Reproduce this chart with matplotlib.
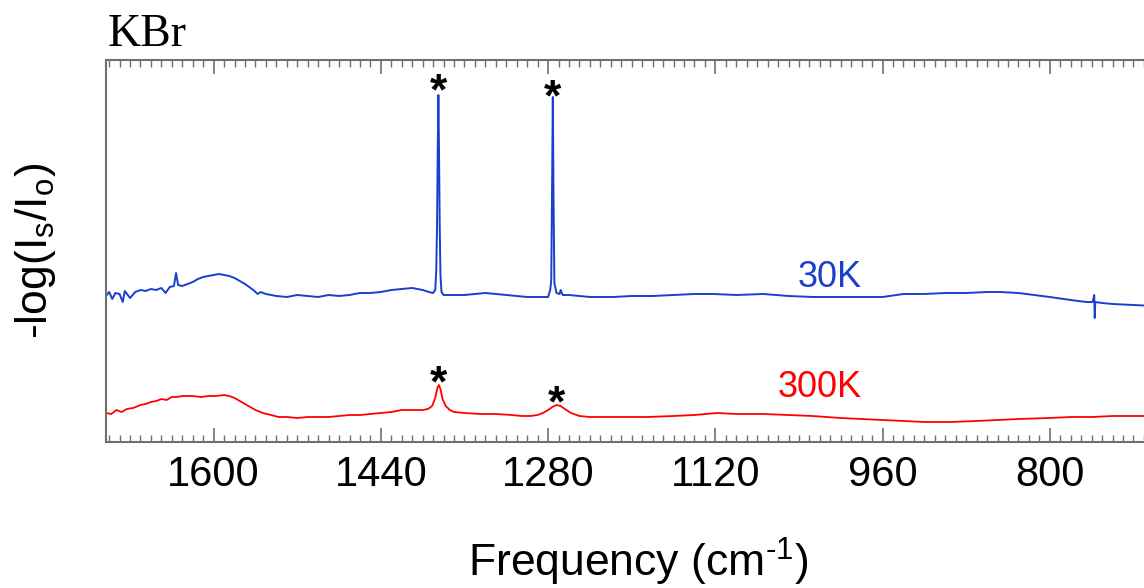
import matplotlib
matplotlib.use("Agg")
import numpy as np
import matplotlib.pyplot as plt
from matplotlib.ticker import MultipleLocator

# ---------------------------------------------------------
# Spectra (frequency in cm^-1, absorbance in arbitrary offset units)
# ---------------------------------------------------------
freq_30k = [1703, 1700, 1697, 1694, 1690, 1687, 1685, 1680, 1675, 1670, 1665, 1660,
            1655, 1650, 1646, 1642, 1638, 1636, 1634, 1630, 1625, 1620, 1615, 1610,
            1605, 1600, 1595, 1590, 1585, 1580, 1575, 1570, 1566, 1562, 1558, 1555,
            1550, 1540, 1530, 1520, 1510, 1500, 1490, 1480, 1470, 1460, 1450, 1440,
            1430, 1420, 1410, 1400, 1394, 1390, 1388, 1387, 1386.3, 1385.6, 1385,
            1384.4, 1383.7, 1383, 1382, 1380, 1370, 1360, 1350, 1340, 1330, 1320,
            1310, 1300, 1290, 1280, 1278, 1277, 1276.3, 1275.5, 1274.8, 1274, 1272,
            1269, 1268, 1266, 1260, 1250, 1240, 1230, 1218, 1200, 1180, 1160, 1140,
            1122, 1100, 1074, 1050, 1027, 1000, 980, 960, 940, 920, 900, 880, 860,
            848, 830, 815, 800, 780, 765, 759, 757.5, 757, 756.5, 750, 740, 720,
            700, 685]
abs_30k = [1.46, 1.50, 1.43, 1.49, 1.48, 1.40, 1.51, 1.44, 1.50, 1.52, 1.51, 1.53,
           1.52, 1.54, 1.49, 1.55, 1.56, 1.69, 1.57, 1.56, 1.58, 1.60, 1.63, 1.65,
           1.66, 1.67, 1.68, 1.67, 1.66, 1.64, 1.61, 1.58, 1.55, 1.52, 1.48, 1.50,
           1.48, 1.46, 1.45, 1.47, 1.46, 1.45, 1.47, 1.46, 1.47, 1.49, 1.49, 1.50,
           1.52, 1.53, 1.54, 1.52, 1.50, 1.49, 1.52, 1.72, 2.15, 2.92, 3.47,
           2.92, 2.15, 1.67, 1.50, 1.47, 1.47, 1.47, 1.48, 1.49, 1.48, 1.47,
           1.46, 1.45, 1.45, 1.45, 1.52, 1.62, 2.42, 3.45, 2.42, 1.59, 1.49,
           1.48, 1.52, 1.47, 1.47, 1.46, 1.45, 1.45, 1.45, 1.46, 1.46, 1.47, 1.48,
           1.48, 1.47, 1.48, 1.46, 1.45, 1.45, 1.45, 1.45, 1.48, 1.48, 1.49, 1.49, 1.50,
           1.50, 1.49, 1.47, 1.45, 1.42, 1.40, 1.40, 1.47, 1.24, 1.40, 1.39, 1.38, 1.37,
           1.36, 1.36]

freq_300k = [1703, 1698, 1693, 1688, 1683, 1677, 1670, 1665, 1660, 1655, 1650, 1645,
             1640, 1635, 1630, 1620, 1612, 1605, 1598, 1590, 1585, 1580, 1575, 1570,
             1565, 1560, 1553, 1545, 1538, 1530, 1520, 1510, 1500, 1490, 1480, 1470,
             1460, 1450, 1440, 1430, 1420, 1410, 1400, 1395, 1391, 1388, 1386, 1384.5,
             1383, 1381, 1378, 1374, 1370, 1360, 1345, 1330, 1315, 1305, 1297, 1290,
             1285, 1280, 1276, 1272, 1268, 1264, 1258, 1250, 1240, 1230, 1210, 1185,
             1160, 1140, 1118, 1100, 1074, 1050, 1027, 1000, 980, 960, 940, 920, 895,
             870, 850, 830, 800, 780, 760, 740, 710, 685]
abs_300k = [0.29, 0.28, 0.32, 0.30, 0.33, 0.34, 0.37, 0.38, 0.40, 0.41, 0.43, 0.42,
            0.45, 0.45, 0.46, 0.46, 0.45, 0.46, 0.46, 0.47, 0.46, 0.44, 0.41, 0.38,
            0.35, 0.32, 0.29, 0.27, 0.25, 0.25, 0.24, 0.25, 0.25, 0.25, 0.26, 0.27,
            0.27, 0.28, 0.29, 0.30, 0.32, 0.32, 0.32, 0.33, 0.36, 0.44, 0.54, 0.57,
            0.53, 0.43, 0.36, 0.32, 0.30, 0.29, 0.28, 0.28, 0.27, 0.26, 0.26, 0.27,
            0.29, 0.32, 0.35, 0.37, 0.36, 0.33, 0.29, 0.26, 0.25, 0.25, 0.25, 0.25,
            0.26, 0.27, 0.29, 0.28, 0.28, 0.27, 0.26, 0.24, 0.23, 0.22, 0.21, 0.20, 0.20,
            0.21, 0.22, 0.23, 0.24, 0.25, 0.25, 0.26, 0.26, 0.26]

# peaks marked with an asterisk: (frequency, absorbance)
peaks_30k = [(1385, 3.47), (1275.5, 3.45)]
peaks_300k = [(1384.5, 0.57), (1272, 0.37)]
peak_marker_offsets = [-7, -10, -8, -8]

BLUE = "#1a3fcc"
RED = "#ff0000"
GRAY = "#707070"

plt.rcParams["font.family"] = ["Liberation Sans", "DejaVu Sans"]
plt.rcParams["mathtext.fontset"] = "custom"
plt.rcParams["mathtext.rm"] = "Liberation Sans"
plt.rcParams["mathtext.it"] = "Liberation Sans"
plt.rcParams["mathtext.default"] = "regular"

fig = plt.figure(figsize=(11.44, 5.88), dpi=100)
W, H = 1144, 588
# axes box in pixels: left 106, right 1170 (spills off the right edge), top 60, bottom 442
ax = fig.add_axes([106 / W, (H - 442) / H, (1170 - 106) / W, (442 - 60) / H])

ax.plot(freq_30k, abs_30k, color=BLUE, lw=1.4)
ax.plot(freq_300k, abs_300k, color=RED, lw=1.3)

ax.set_xlim(1703, 685)
ax.set_ylim(0, 3.82)

for (x, y), dy in zip(peaks_30k + peaks_300k, peak_marker_offsets):
    ax.annotate("*", xy=(x, y), xytext=(0, dy), textcoords="offset points",
                ha="center", va="baseline", fontsize=32, fontweight="bold")

ax.text(980, 1.55, "30K", color=BLUE, fontsize=26, ha="right", va="baseline")
ax.text(980, 0.45, "300K", color=RED, fontsize=26, ha="right", va="baseline")

# axis styling
ax.xaxis.set_major_locator(MultipleLocator(160))
ax.xaxis.set_minor_locator(MultipleLocator(10))
ax.set_xticks([1600, 1440, 1280, 1120, 960, 800])
ax.tick_params(axis="x", which="both", direction="in", top=True, bottom=True,
               color=GRAY, labelsize=30, pad=9)
ax.tick_params(axis="x", which="major", length=10, width=1.2)
ax.tick_params(axis="x", which="minor", length=5, width=1.0)
ax.tick_params(axis="y", which="both", left=False, labelleft=False)
for side in ["left", "top", "bottom", "right"]:
    ax.spines[side].set_color(GRAY)
    ax.spines[side].set_linewidth(1.5)

ax.set_xlabel(r"Frequency (cm$^{\text{-1}}$)", fontsize=32)
ax.xaxis.set_label_coords(0.5, -0.245)
ax.set_ylabel("-log(I$_s$/I$_o$)", fontsize=32)
ax.yaxis.set_label_coords(-0.045, 0.5)

fig.text(108 / W, 1 - 46 / H, "KBr", fontfamily="Liberation Serif", fontsize=33,
         ha="left", va="baseline")

fig.savefig("out.png", dpi=100)
